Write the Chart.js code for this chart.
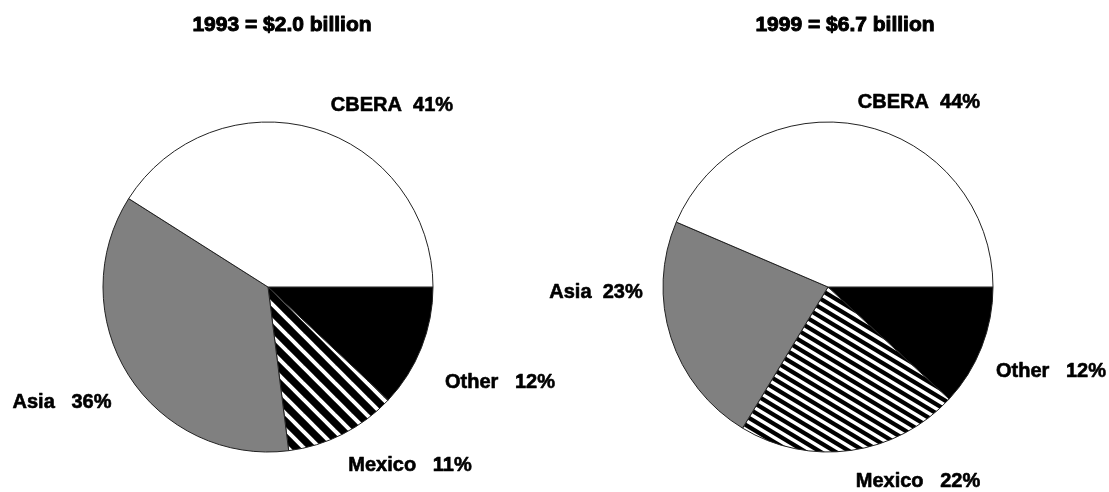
<!DOCTYPE html>
<html>
<head>
<meta charset="utf-8">
<script src="https://cdn.jsdelivr.net/npm/chart.js@4"></script>
<style>
  html, body { margin: 0; padding: 0; background: #fff; }
  #wrap { position: relative; width: 1109px; height: 492px; overflow: hidden; }
  .cell { position: absolute; left: 0; top: 0; width: 1109px; height: 492px; }
</style>
</head>
<body>
<div id="wrap">
  <div class="cell"><canvas id="pie93"></canvas></div>
  <div class="cell"><canvas id="pie99"></canvas></div>
</div>
<script>
// Slices are listed clockwise from 3 o'clock
const regions = ['Other', 'Mexico', 'Asia', 'CBERA'];
const shares1993 = [12, 11, 36, 41];
const shares1999 = [12, 22, 23, 44];
const title1993 = '1993 = $2.0 billion';
const title1999 = '1999 = $6.7 billion';

// label text offsets from the pie centre, one per slice
const labelPos1993 = [[232, 95], [142, 178], [-206, 115], [124, -182]];
const labelPos1999 = [[223, 84], [90, 194], [-232, 5], [91, -185]];
const labelGap1993 = ['   ', '   ', '   ', '  '];
const labelGap1999 = ['   ', '   ', '  ', '  '];

const FONT = '"Liberation Sans", Arial, sans-serif';

// black/white diagonal stripe fill
function stripes(w, h, lw) {
  const c = document.createElement('canvas');
  c.width = w; c.height = h;
  const g = c.getContext('2d');
  g.fillStyle = '#000';
  g.fillRect(0, 0, w, h);
  g.strokeStyle = '#fff';
  g.lineWidth = lw;
  for (let k = -2; k <= 2; k++) {
    g.beginPath();
    g.moveTo(k * w - w, -h);
    g.lineTo(k * w + 2 * w, 2 * h);
    g.stroke();
  }
  return g.createPattern(c, 'repeat');
}

// heavier text: fill plus a thin outline
function boldText(ctx, s, x, y, lw) {
  ctx.lineWidth = lw;
  ctx.fillText(s, x, y);
  ctx.strokeText(s, x, y);
}

const textPlugin = {
  id: 'pieText',
  afterDraw(chart, args, opts) {
    const ctx = chart.ctx;
    const arc = chart.getDatasetMeta(0).data[0];
    const cx = arc.x, cy = arc.y;
    ctx.save();
    ctx.fillStyle = '#000';
    ctx.strokeStyle = '#000';
    ctx.lineJoin = 'round';
    ctx.textAlign = 'center';
    ctx.textBaseline = 'middle';
    ctx.font = 'bold 21px ' + FONT;
    boldText(ctx, opts.title, opts.titleX, 25, 1);
    ctx.font = 'bold 20px ' + FONT;
    const vals = chart.data.datasets[0].data;
    chart.data.labels.forEach((name, i) => {
      const p = opts.pos[i];
      boldText(ctx, name + opts.gap[i] + vals[i] + '%', cx + p[0], cy + p[1], 0.6);
    });
    ctx.restore();
  }
};

function makePie(id, values, title, titleX, pos, gap, padLeft, padRight, mexicoFill) {
  const canvas = document.getElementById(id);
  canvas.width = 1109;
  canvas.height = 492;
  return new Chart(canvas, {
    type: 'pie',
    data: {
      labels: regions,
      datasets: [{
        data: values,
        backgroundColor: ['#000000', mexicoFill, '#808080', '#ffffff'],
        borderColor: '#222222',
        borderWidth: 1,
        hoverOffset: 0
      }]
    },
    options: {
      responsive: false,
      animation: false,
      rotation: 90,
      radius: 165,
      layout: { padding: { left: padLeft, right: padRight, top: 82, bottom: 0 } },
      plugins: {
        legend: { display: false },
        tooltip: { enabled: false },
        pieText: { title: title, titleX: titleX, pos: pos, gap: gap }
      },
      events: []
    },
    plugins: [textPlugin]
  });
}

makePie('pie93', shares1993, title1993, 282, labelPos1993, labelGap1993, 0, 573, stripes(16, 16, 4));
makePie('pie99', shares1999, title1999, 845, labelPos1999, labelGap1999, 547, 0, stripes(15, 9, 3.5));
</script>
</body>
</html>
